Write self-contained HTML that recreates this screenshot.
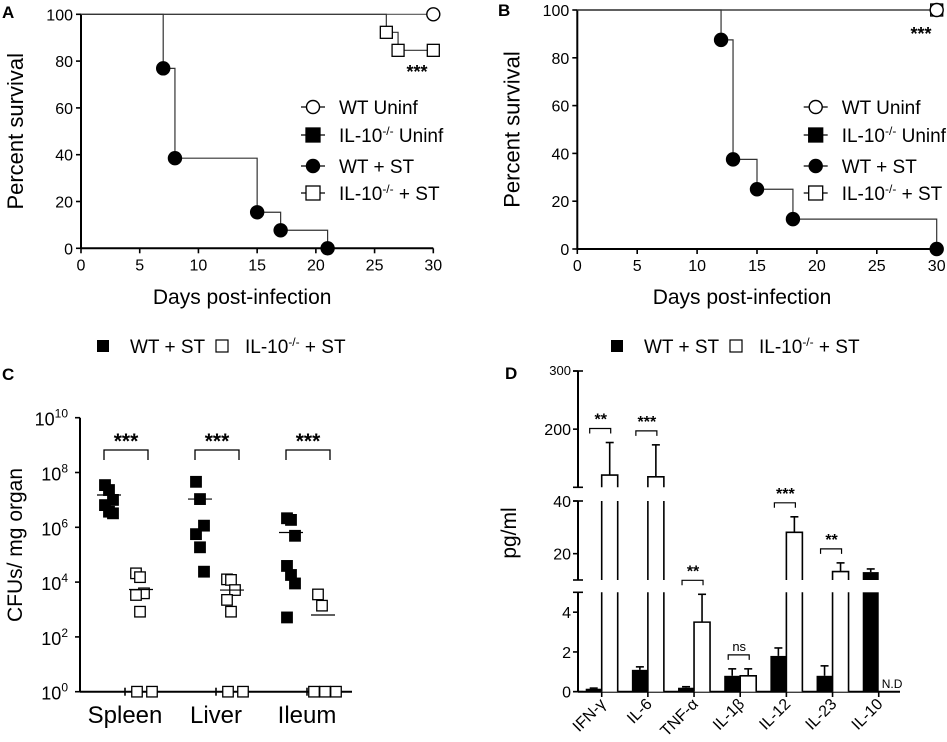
<!DOCTYPE html>
<html><head><meta charset="utf-8">
<style>
html,body{margin:0;padding:0;background:#fff;}
svg{display:block;font-family:"Liberation Sans",Arial,sans-serif;}
</style></head>
<body>
<svg id="fig" width="947" height="742" viewBox="0 0 947 742" xmlns="http://www.w3.org/2000/svg">
<g id="gA"></g>
<g id="gB"></g>
<g id="gC"></g>
<g id="gD"></g>
</svg>
<script>
// ---- Panel A data ----
const aWtStDays = [0, 7, 8, 15, 17, 21];
const aWtStSurv = [100, 76.9, 38.5, 15.4, 7.7, 0];
const aKoStDays = [0, 26, 27, 30];
const aKoStSurv = [100, 92.3, 84.6, 84.6];
// ---- Panel B data ----
const bWtStDays = [0, 12, 13, 15, 18, 30];
const bWtStSurv = [100, 87.5, 37.5, 25, 12.5, 0];
const bKoStDays = [0, 30];
const bKoStSurv = [100, 100];
const survTicksX = [0, 5, 10, 15, 20, 25, 30];
const survTicksY = [0, 20, 40, 60, 80, 100];
// ---- Panel C data (log10 CFU) ----
const organs = ["Spleen", "Liver", "Ileum"];
const cWt = [[7.54, 7.36, 7.0, 6.81, 6.57, 6.51], [7.66, 7.03, 6.06, 5.75, 5.27, 4.38], [6.33, 6.27, 5.69, 4.59, 4.26, 3.95, 2.71]];
const cKo = [[4.32, 4.18, 3.59, 3.53, 2.92, 0, 0], [4.10, 4.08, 3.71, 3.35, 2.92, 0, 0], [3.55, 3.14, 0, 0, 0]];
const cWtMed = [7.18, 7.03, 5.81];
const cKoMed = [3.73, 3.71, 2.8];
const cSig = ["***", "***", "***"];
const cTicks = [0, 2, 4, 6, 8, 10];
// ---- Panel D data ----
const cytokines = ["IFN-γ", "IL-6", "TNF-α", "IL-1β", "IL-12", "IL-23", "IL-10"];
const dWt = [0.15, 1.1, 0.2, 0.8, 1.8, 0.8, 13];
const dWtErr = [0.18, 1.25, 0.25, 1.15, 2.2, 1.3, 14.2];
const dKo = [121, 118, 3.5, 0.8, 28.1, 13.2, null];
const dKoErr = [177, 173, 4.9, 1.15, 34, 16.5, null];
const dSig = ["**", "***", "**", "ns", "***", "**", ""];
const dTicks = [0, 2, 4, 20, 40, 200, 300];

const NS = "http://www.w3.org/2000/svg";
function el(parent, tag, attrs, text) {
  const e = document.createElementNS(NS, tag);
  for (const k in attrs) e.setAttribute(k, attrs[k]);
  if (text !== undefined) e.textContent = text;
  parent.appendChild(e);
  return e;
}
function ln(p, x1, y1, x2, y2, w) { return el(p, "line", {x1, y1, x2, y2, stroke: "#000", "stroke-width": w || 1.3}); }
function circ(p, x, y, filled) {
  return el(p, "circle", {cx: x, cy: y, r: 6.5, fill: filled ? "#000" : "#fff", stroke: "#000", "stroke-width": 1.4});
}
function sq(p, x, y, filled, s) {
  s = s || 12;
  return el(p, "rect", {x: x - s / 2, y: y - s / 2, width: s, height: s, fill: filled ? "#000" : "#fff", stroke: "#000", "stroke-width": 1.3});
}

function survival(g, cfg) {
  const X = d => cfg.x0 + (cfg.x1 - cfg.x0) * d / 30;
  const Y = v => cfg.y0 + (cfg.y100 - cfg.y0) * v / 100;
  const ax = el(g, "g", {});
  
  
  ln(ax, cfg.x0, Y(100), cfg.x0, Y(0), 2);
  ln(ax, cfg.x0, Y(0), X(30), Y(0), 2);
  survTicksY.forEach(t => {
    ln(ax, cfg.x0 - 5, Y(t), cfg.x0, Y(t), 1.6);
    const tl = el(ax, "text", {x: cfg.x0 - 8, y: Y(t) + 6, "text-anchor": "end", "font-size": 16}, String(t));
    
    
  });
  survTicksX.forEach(t => {
    ln(ax, X(t), Y(0), X(t), Y(0) + 5, 1.6);
    const tl = el(ax, "text", {x: X(t), y: Y(0) + 22, "text-anchor": "middle", "font-size": 16}, String(t));
    
    
  });
  const yt = el(g, "text", {transform: `translate(${cfg.x0 - 58},${(Y(0) + Y(100)) / 2}) rotate(-90)`, "text-anchor": "middle", "font-size": 22}, "Percent survival");
  
  
  const xt = el(g, "text", {x: X(15) - 15, y: 304, "text-anchor": "middle", "font-size": 21}, "Days post-infection");
  
  
  const u = el(g, "polyline", {points: `${X(0)},${Y(100)} ${X(30)},${Y(100)}`, fill: "none", stroke: "#555", "stroke-width": 1.2});
  
  
  function steps(days, surv, name, filled, shape) {
    let pts = `${X(days[0])},${Y(surv[0])}`;
    for (let i = 1; i < days.length; i++) {
      pts += ` ${X(days[i])},${Y(surv[i - 1])} ${X(days[i])},${Y(surv[i])}`;
    }
    const pl = el(g, "polyline", {points: pts, fill: "none", stroke: "#333", "stroke-width": 1.2});
    
    
    for (let i = 1; i < days.length; i++) {
      const m = shape === "c" ? circ(g, X(days[i]), Y(surv[i]), filled) : sq(g, X(days[i]), Y(surv[i]), filled);
      
      
    }
  }
  steps(cfg.koDays, cfg.koSurv, "il10-st", false, "s");
  steps(cfg.wtDays, cfg.wtSurv, "wt-st", true, "c");
  const wu = circ(g, X(30), Y(100), false);
  
  
  const st = el(g, "text", {x: cfg.starX, y: cfg.starY, "text-anchor": "middle", "font-size": 18, "font-weight": "bold"}, "***");
  
  
  const lg = el(g, "g", {});
  
  
  const rows = [["c", false, "WT Uninf", false], ["s", true, "IL-10", " Uninf"], ["c", true, "WT + ST", false], ["s", false, "IL-10", " + ST"]];
  const ry = [107, 135, 166, 193];
  rows.forEach((r, i) => {
    const e = el(lg, "g", {});
    
    
    ln(e, cfg.lx - 12, ry[i], cfg.lx + 12, ry[i], 1.3);
    if (r[0] === "c") circ(e, cfg.lx, ry[i], r[1]); else sq(e, cfg.lx, ry[i], r[1], 14);
    const t = el(e, "text", {x: cfg.lx + 26, y: ry[i] + 7, "font-size": 19});
    if (r[3] === false) t.textContent = r[2];
    else {
      el(t, "tspan", {}, r[2]);
      el(t, "tspan", {dy: -7, "font-size": 12}, "-/-");
      el(t, "tspan", {dy: 7}, r[3]);
    }
  });
  const pl = el(g, "text", {x: cfg.labX, y: cfg.labY, "font-size": 17, "font-weight": "bold"}, cfg.lab);
  
  
}

survival(document.getElementById("gA"), {x0: 81, x1: 433.3, y0: 248.3, y100: 14.3,
  wtDays: aWtStDays, wtSurv: aWtStSurv, koDays: aKoStDays, koSurv: aKoStSurv,
  starX: 417, starY: 78, lx: 313, lab: "A", labX: 2, labY: 18});
survival(document.getElementById("gB"), {x0: 577.3, x1: 936.7, y0: 249, y100: 10,
  wtDays: bWtStDays, wtSurv: bWtStSurv, koDays: bKoStDays, koSurv: bKoStSurv,
  starX: 921, starY: 40, lx: 815.7, lab: "B", labX: 498, labY: 16});

function legend2(g, x, y) {
  const lg = el(g, "g", {});
  
  
  const e1 = el(lg, "g", {});
  
  
  el(e1, "rect", {x: x - 6, y: y - 6, width: 12, height: 12, fill: "#000"});
  el(e1, "text", {x: x + 27, y: y + 7, "font-size": 19}, "WT + ST");
  const e2 = el(lg, "g", {});
  
  
  el(e2, "rect", {x: x + 113, y: y - 6, width: 12, height: 12, fill: "#fff", stroke: "#000", "stroke-width": 1.2});
  const t = el(e2, "text", {x: x + 142, y: y + 7, "font-size": 19});
  el(t, "tspan", {}, "IL-10");
  el(t, "tspan", {dy: -7, "font-size": 12}, "-/-");
  el(t, "tspan", {dy: 7}, " + ST");
}

// ---- Panel C ----
(function () {
  const g = document.getElementById("gC");
  const x0 = 80, x1 = 352, yBot = 691.7, yTop = 417.7;
  const Y = v => yBot + (yTop - yBot) * v / 10;
  const catX = [125, 216, 307];
  legend2(g, 103, 346);
  const pl = el(g, "text", {x: 2, y: 380, "font-size": 17, "font-weight": "bold"}, "C");
  
  
  const ax = el(g, "g", {});
  
  
  ln(ax, x0, yTop, x0, yBot, 2);
  ln(ax, x0, yBot, x1, yBot, 2);
  cTicks.forEach(t => {
    ln(ax, x0 - 5, Y(t), x0, Y(t), 1.6);
    const tl = el(ax, "text", {x: x0 - 12, y: Y(t) + 8, "text-anchor": "end", "font-size": 18});
    
    
    el(tl, "tspan", {}, "10");
    el(tl, "tspan", {dy: -8, "font-size": 12}, String(t));
  });
  const yt = el(g, "text", {transform: `translate(${22},${545}) rotate(-90)`, "text-anchor": "middle", "font-size": 21}, "CFUs/ mg organ");
  
  
  organs.forEach((o, i) => {
    const cx = catX[i];
    ln(ax, cx, yBot - 4, cx, yBot + 4, 1.6);
    const tl = el(g, "text", {x: cx, y: 723, "text-anchor": "middle", "font-size": 24}, o);
    
    
    cWt[i].forEach((v, j) => {
      const m = sq(g, cx - 16 + ((j % 3) - 1) * 4, Y(v), true, 10.5);
      
      
    });
    let zc = 0;
    const nz = cKo[i].filter(q => q === 0).length;
    cKo[i].forEach((v, j) => {
      let px;
      if (v === 0) { px = cx + 12 + zc * (nz > 2 ? 11 : 15) - (nz > 2 ? 5 : 0); zc++; }
      else px = cx + 15 + ((j % 3) - 1) * 4;
      const m = sq(g, px, Y(v), false, 10.5);
      
      
    });
    const m1 = ln(g, cx - 28, Y(cWtMed[i]), cx - 4, Y(cWtMed[i]), 1.2);
    
    
    const m2 = ln(g, cx + 4, Y(cKoMed[i]), cx + 28, Y(cKoMed[i]), 1.2);
    
    
    const br = el(g, "polyline", {points: `${cx - 21},460 ${cx - 21},450 ${cx + 23},450 ${cx + 23},460`, fill: "none", stroke: "#000", "stroke-width": 1.3});
    
    
    const st = el(g, "text", {x: cx + 1, y: 448, "text-anchor": "middle", "font-size": 21, "font-weight": "bold"}, cSig[i]);
    
    
  });
})();

// ---- Panel D ----
(function () {
  const g = document.getElementById("gD");
  const x0 = 578, x1 = 900;
  const segs = [
    {lo: 0, hi: 5, yLo: 691.7, yHi: 592.3},
    {lo: 10, hi: 40, yLo: 580, yHi: 501},
    {lo: 100, hi: 300, yLo: 487.3, yHi: 371}
  ];
  function Y(v) {
    for (let i = segs.length - 1; i >= 0; i--) {
      const s = segs[i];
      if (v >= s.lo || i === 0) {
        const vv = Math.min(v, s.hi);
        return s.yLo + (s.yHi - s.yLo) * (vv - s.lo) / (s.hi - s.lo);
      }
    }
  }
  function Yclip(v, s) { return s.yLo + (s.yHi - s.yLo) * (Math.max(s.lo, Math.min(v, s.hi)) - s.lo) / (s.hi - s.lo); }
  legend2(g, 617, 346);
  const pl = el(g, "text", {x: 505, y: 379, "font-size": 17, "font-weight": "bold"}, "D");
  
  
  const ax = el(g, "g", {});
  
  
  segs.forEach(s => {
    ln(ax, x0, s.yHi, x0, s.yLo, 2);
    ln(ax, x0 - 5, s.yHi, x0 + 5, s.yHi, 1.6);
    ln(ax, x0 - 5, s.yLo, x0 + 5, s.yLo, 1.6);
  });
  ln(ax, x0, 691.7, x1, 691.7, 2);
  dTicks.forEach(t => {
    const y = Y(t);
    ln(ax, x0 - 5, y, x0, y, 1.6);
    const tl = el(ax, "text", {x: x0 - 7, y: y + (t === 300 ? 4 : 6), "text-anchor": "end", "font-size": t === 300 ? 13 : 16}, String(t));
    
    
  });
  const yt = el(g, "text", {transform: `translate(${516},${533}) rotate(-90)`, "text-anchor": "middle", "font-size": 21}, "pg/ml");
  
  
  const c0 = 601.7, step = 46.17, bw = 16;
  function bar(cx, v, err, filled, name) {
    const bg = el(g, "g", {});
    
    
    const xL = filled ? cx - bw : cx, xR = filled ? cx : cx + bw;
    const ex = (xL + xR) / 2;
    el(bg, "line", {x1: ex, y1: Y(v), x2: ex, y2: Y(err), stroke: "#000", "stroke-width": 1.6});
    el(bg, "line", {x1: ex - 4, y1: Y(err), x2: ex + 4, y2: Y(err), stroke: "#000", "stroke-width": 1.6});
    segs.forEach(s => {
      if (v <= s.lo) return;
      const yb = s.yLo, yt2 = Yclip(v, s);
      const ends = v <= s.hi;
      if (filled) el(bg, "rect", {x: xL, y: yt2, width: bw, height: yb - yt2, fill: "#000"});
      else {
        el(bg, "rect", {x: xL, y: yt2, width: bw, height: yb - yt2, fill: "#fff"});
        const d = ends ? `M${xL},${yb} L${xL},${yt2} L${xR},${yt2} L${xR},${yb}` : `M${xL},${yb} L${xL},${yt2} M${xR},${yt2} L${xR},${yb}`;
        el(bg, "path", {d, fill: "none", stroke: "#000", "stroke-width": 1.6});
      }
    });
  }
  cytokines.forEach((c, i) => {
    const cx = c0 + i * step;
    ln(ax, cx, 691.7, cx, 697, 1.6);
    bar(cx, dWt[i], dWtErr[i], true, 'bar-wt-' + c);
    if (dKo[i] !== null) bar(cx, dKo[i], dKoErr[i], false, 'bar-il10-' + c);
    else {
      const nd = el(g, "text", {x: cx + 3, y: 688, "font-size": 12}, "N.D");
      
      
    }
    const tl = el(g, "text", {transform: `translate(${cx + 5},${705}) rotate(-45)`, "text-anchor": "end", "font-size": 16}, c);
    
    
    if (dSig[i]) {
      const top = Math.max(dWtErr[i], dKoErr[i] || 0);
      const by = Y(top) - 14;
      const br = el(g, "polyline", {points: `${cx - 12},${by + 5} ${cx - 12},${by} ${cx + 9},${by} ${cx + 9},${by + 5}`, fill: "none", stroke: "#000", "stroke-width": 1.2});
      
      
      const st = el(g, "text", {x: cx - 1, y: by - 4, "text-anchor": "middle", "font-size": dSig[i] === "ns" ? 13 : 16, "font-weight": dSig[i] === "ns" ? "normal" : "bold"}, dSig[i]);
      
      
    }
  });
})();
</script>
</body></html>
